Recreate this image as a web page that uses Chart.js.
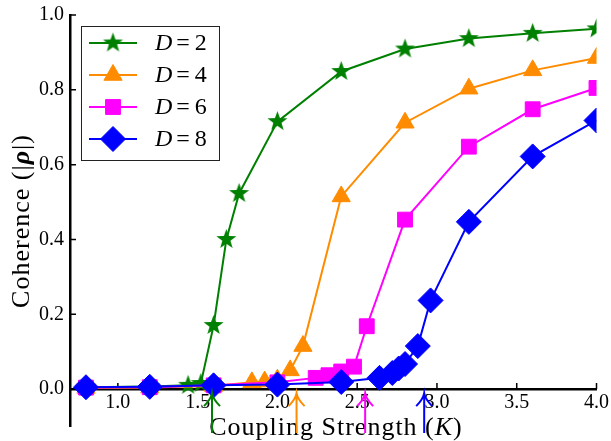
<!DOCTYPE html>
<html>
<head>
<meta charset="utf-8">
<script src="https://cdn.jsdelivr.net/npm/chart.js@4.4.0/dist/chart.umd.min.js"></script>
<style>
  html, body { margin: 0; padding: 0; background: #fff; }
</style>
</head>
<body>
<canvas id="chart" width="611" height="441"></canvas>
<script>
// Tick values
const xTicks = [1.0, 1.5, 2.0, 2.5, 3.0, 3.5, 4.0];
const yTicks = [0.0, 0.2, 0.4, 0.6, 0.8, 1.0];

// Coupling strength K and coherence |rho| for each D
const kD2 = [0.8, 1.2, 1.44, 1.52, 1.6, 1.68, 1.76, 2.0, 2.4, 2.8, 3.2, 3.6, 4.0];
const rhoD2 = [0.005, 0.007, 0.01, 0.015, 0.17, 0.40, 0.523, 0.715, 0.849, 0.909, 0.937, 0.951, 0.963];

const kD4 = [0.8, 1.2, 1.6, 1.84, 1.92, 2.0, 2.08, 2.16, 2.4, 2.8, 3.2, 3.6, 4.0];
const rhoD4 = [0.003, 0.004, 0.008, 0.018, 0.02, 0.025, 0.05, 0.115, 0.515, 0.712, 0.803, 0.852, 0.885];

const kD6 = [0.8, 1.2, 1.6, 2.0, 2.24, 2.32, 2.4, 2.48, 2.56, 2.8, 3.2, 3.6, 4.0];
const rhoD6 = [0.004, 0.005, 0.01, 0.018, 0.03, 0.037, 0.047, 0.06, 0.168, 0.453, 0.648, 0.748, 0.805];

const kD8 = [0.8, 1.2, 1.6, 2.0, 2.4, 2.64, 2.72, 2.76, 2.8, 2.88, 2.96, 3.2, 3.6, 4.0];
const rhoD8 = [0.005, 0.006, 0.01, 0.012, 0.019, 0.03, 0.043, 0.055, 0.067, 0.115, 0.237, 0.447, 0.622, 0.718];

// Critical couplings marked with arrows under the axis
const arrowK = [1.59, 2.12, 2.55, 2.92];

const seriesLabels = ['2', '4', '6', '8'];
const colors = ['#008000', '#ff8c00', '#ff00ff', '#0000ff'];

// filled five-point star marker
function makeStar(color, outer, inner) {
    const c = document.createElement('canvas');
    const s = Math.ceil(outer * 2 + 4);
    c.width = s; c.height = s;
    const g = c.getContext('2d');
    g.beginPath();
    for (let i = 0; i < 10; i++) {
        const r = i % 2 === 0 ? outer : inner;
        const a = -Math.PI / 2 + i * Math.PI / 5;
        const px = s / 2 + r * Math.cos(a), py = s / 2 + r * Math.sin(a);
        if (i === 0) g.moveTo(px, py); else g.lineTo(px, py);
    }
    g.closePath();
    g.fillStyle = color;
    g.fill();
    return c;
}
const star = makeStar(colors[0], 10.5, 4.3);

const pointStyles = [star, 'triangle', 'rect', 'rectRot'];
const pointRadii = [10, 10.5, 10.5, 12.5];

function toPoints(ks, vals) {
    return ks.map((k, i) => ({ x: k, y: vals[i] }));
}
const allData = [toPoints(kD2, rhoD2), toPoints(kD4, rhoD4), toPoints(kD6, rhoD6), toPoints(kD8, rhoD8)];

const datasets = allData.map((d, i) => ({
    label: 'D=' + seriesLabels[i],
    data: d,
    borderColor: colors[i],
    backgroundColor: colors[i],
    pointBackgroundColor: colors[i],
    pointBorderColor: colors[i],
    pointBorderWidth: 1,
    borderWidth: 2,
    pointStyle: pointStyles[i],
    pointRadius: pointRadii[i],
    pointHoverRadius: pointRadii[i],
    tension: 0,
    clip: 0,
    order: 4 - i
}));

const serif = '"Liberation Serif", "DejaVu Serif", serif';

function drawMarker(ctx, i, x, y) {
    const style = pointStyles[i];
    ctx.save();
    ctx.fillStyle = colors[i];
    ctx.strokeStyle = colors[i];
    ctx.lineWidth = 1;
    if (Chart.helpers && Chart.helpers.drawPoint) {
        Chart.helpers.drawPoint(ctx, { pointStyle: style, radius: pointRadii[i], rotation: 0, borderWidth: 1 }, x, y);
    } else if (typeof style !== 'string') {
        ctx.drawImage(style, x - style.width / 2, y - style.height / 2);
    }
    ctx.restore();
}

// inward ticks, axis titles, legend and arrows
const decorPlugin = {
    id: 'decor',
    beforeDatasetsDraw(chart) {
        const { ctx, chartArea, scales: { x, y } } = chart;
        const y0 = y.getPixelForValue(0);
        ctx.save();
        ctx.strokeStyle = '#000';
        ctx.lineWidth = 1.5;
        ctx.beginPath();
        xTicks.forEach(v => {
            const px = x.getPixelForValue(v);
            ctx.moveTo(px, y0);
            ctx.lineTo(px, y0 - 6);
        });
        yTicks.forEach(v => {
            const py = y.getPixelForValue(v);
            ctx.moveTo(chartArea.left, py);
            ctx.lineTo(chartArea.left + 6, py);
        });
        ctx.stroke();
        ctx.restore();
    },
    afterDraw(chart) {
        const { ctx, scales: { x, y } } = chart;
        ctx.save();

        // x title
        ctx.fillStyle = '#000';
        ctx.textBaseline = 'alphabetic';
        ctx.letterSpacing = '1px';
        const partsX = [['Coupling Strength (', ''], ['K', 'italic '], [')', '']];
        let total = 0;
        partsX.forEach(p => { ctx.font = p[1] + '26px ' + serif; total += ctx.measureText(p[0]).width; });
        let cx = 336 - total / 2;
        partsX.forEach(p => {
            ctx.font = p[1] + '26px ' + serif;
            ctx.fillText(p[0], cx, 435);
            cx += ctx.measureText(p[0]).width;
        });

        // y title
        ctx.save();
        ctx.translate(29, 221);
        ctx.rotate(-Math.PI / 2);
        const partsY = [['Coherence (|', ''], ['\u03c1', 'italic bold '], ['|)', '']];
        total = 0;
        partsY.forEach(p => { ctx.font = p[1] + '26px ' + serif; total += ctx.measureText(p[0]).width; });
        cx = -total / 2;
        partsY.forEach(p => {
            ctx.font = p[1] + '26px ' + serif;
            ctx.fillText(p[0], cx, 0);
            cx += ctx.measureText(p[0]).width;
        });
        ctx.restore();
        ctx.letterSpacing = '0px';

        // legend
        ctx.fillStyle = '#fff';
        ctx.fillRect(81.5, 26.5, 138, 134);
        ctx.strokeStyle = '#222';
        ctx.lineWidth = 1;
        ctx.strokeRect(81.5, 26.5, 138, 134);
        const rowY = [43, 75, 107, 139];
        seriesLabels.forEach((lab, i) => {
            const ry = rowY[i];
            ctx.strokeStyle = colors[i];
            ctx.lineWidth = 2;
            ctx.beginPath();
            ctx.moveTo(89, ry);
            ctx.lineTo(137, ry);
            ctx.stroke();
            drawMarker(ctx, i, 113, ry);
            ctx.fillStyle = '#000';
            ctx.textBaseline = 'middle';
            let tx = 155;
            ctx.font = 'italic 24px ' + serif;
            ctx.fillText('D', tx, ry + 1);
            tx += ctx.measureText('D').width + 4;
            ctx.font = '24px ' + serif;
            ctx.fillText('=', tx, ry + 1);
            tx += ctx.measureText('=').width + 5;
            ctx.fillText(lab, tx, ry + 1);
        });

        // arrows below the axis
        const tipY = y.getPixelForValue(0) + 4;
        arrowK.forEach((k, i) => {
            const px = x.getPixelForValue(k);
            ctx.strokeStyle = colors[i];
            ctx.lineWidth = 2;
            ctx.beginPath();
            ctx.moveTo(px, 433);
            ctx.lineTo(px, tipY);
            ctx.moveTo(px - 8, tipY + 13);
            ctx.quadraticCurveTo(px - 1, tipY + 6, px, tipY);
            ctx.quadraticCurveTo(px + 1, tipY + 6, px + 8, tipY + 13);
            ctx.stroke();
        });
        ctx.restore();
    }
};

new Chart(document.getElementById('chart'), {
    type: 'line',
    data: { datasets: datasets },
    options: {
        responsive: false,
        animation: false,
        devicePixelRatio: 1,
        layout: { padding: { left: 0, right: 14, top: 15, bottom: 14.5 } },
        plugins: {
            legend: { display: false },
            tooltip: { enabled: false }
        },
        scales: {
            x: {
                type: 'linear',
                min: 0.7,
                max: 4.0,
                position: { y: 0 },
                afterBuildTicks: s => { s.ticks = xTicks.map(v => ({ value: v })); },
                ticks: {
                    color: '#000',
                    font: { family: serif, size: 20 },
                    padding: 2,
                    maxRotation: 0,
                    callback: v => v.toFixed(1)
                },
                grid: { display: false, drawTicks: false },
                border: { display: true, color: '#000', width: 2.5 }
            },
            y: {
                type: 'linear',
                min: -0.1,
                max: 1.0,
                afterBuildTicks: s => { s.ticks = yTicks.map(v => ({ value: v })); },
                afterFit: s => { s.width = 70; s.paddingTop = 0; s.paddingBottom = 0; },
                ticks: {
                    color: '#000',
                    font: { family: serif, size: 20 },
                    padding: 6,
                    callback: v => v.toFixed(1)
                },
                grid: { display: false, drawTicks: false },
                border: { display: true, color: '#000', width: 2.5 }
            }
        }
    },
    plugins: [decorPlugin]
});
</script>
</body>
</html>
